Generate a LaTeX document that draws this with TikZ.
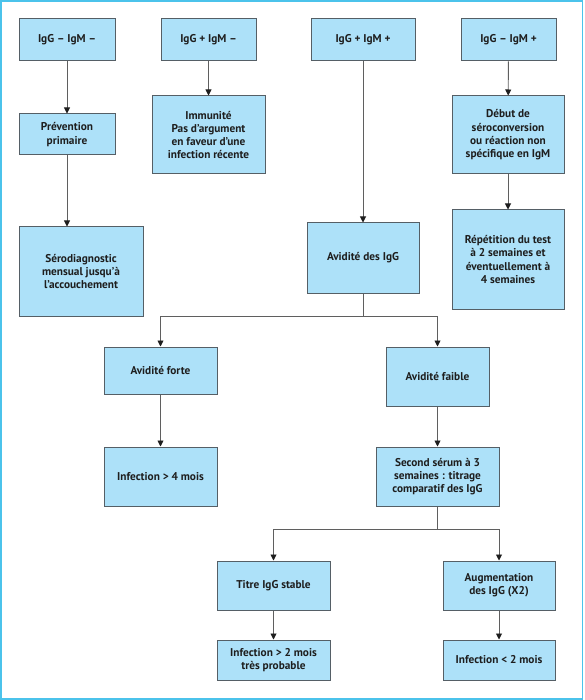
\documentclass[tikz,border=0pt]{standalone}
\usepackage{fontspec}
\setmainfont{PT Sans}
\usetikzlibrary{arrows.meta}
\definecolor{boxfill}{RGB}{173,225,249}
\definecolor{boxline}{RGB}{85,95,102}
\definecolor{frameblue}{RGB}{75,195,235}
\definecolor{conn}{RGB}{95,95,95}
\definecolor{tipc}{RGB}{30,30,30}
\definecolor{txt}{RGB}{30,30,30}
\begin{document}
\begin{tikzpicture}[x=1pt,y=-1pt,
  box/.style={draw=boxline, line width=1pt, fill=boxfill, align=center,
    inner sep=2pt, text=txt, font=\bfseries\fontsize{11.3}{13.3}\selectfont},
  arr/.style={draw=conn, line width=0.9pt, -{Triangle[length=6pt,width=6pt,color=tipc]}},
  ln/.style={draw=conn, line width=0.9pt}]
\useasboundingbox (0,0) rectangle (584,700);
\draw[frameblue, line width=1.6pt] (0.8,0.8) rectangle (582.5,699);

\node[box, minimum width=96, minimum height=42] (A) at (67,40) {IgG – IgM –};
\node[box, minimum width=95, minimum height=42] (B) at (208.5,40) {IgG + IgM –};
\node[box, minimum width=104, minimum height=42] (C) at (363,40) {IgG + IgM +};
\node[box, minimum width=95, minimum height=42] (D) at (508.5,40) {IgG – IgM +};

\node[box, minimum width=96, minimum height=41] (E) at (67,134.5) {Prévention\\primaire};
\node[box, minimum width=113, minimum height=78] (F) at (208.5,135) {Immunité\\Pas d’argument\\en faveur d’une\\infection récente};
\node[box, minimum width=112, minimum height=78] (G) at (508,135) {Début de\\séroconversion\\ou réaction non\\spécifique en IgM};

\node[box, minimum width=124, minimum height=89] (H) at (81,271.5) {Sérodiagnostic\\mensual jusqu’à\\l’accouchement};
\node[box, minimum width=112, minimum height=70] (I) at (363,258) {Avidité des IgG};
\node[box, minimum width=112, minimum height=99] (J) at (508,259.5) {Répétition du test\\à 2 semaines et\\éventuellement à\\4 semaines};

\node[box, minimum width=113, minimum height=47] (K) at (160.5,370.5) {Avidité forte};
\node[box, minimum width=103, minimum height=59] (L) at (437.5,376.5) {Avidité faible};
\node[box, minimum width=113, minimum height=59] (M) at (160.5,476.5) {Infection > 4 mois};
\node[box, minimum width=123, minimum height=59] (N) at (437.5,476.5) {Second sérum à 3\\semaines : titrage\\comparatif des IgG};

\node[box, minimum width=113, minimum height=49] (O) at (273.5,585.5) {Titre IgG stable};
\node[box, minimum width=112, minimum height=49] (P) at (499,585.5) {Augmentation\\des IgG (X2)};
\node[box, minimum width=113, minimum height=40] (Q) at (273.5,660) {Infection > 2 mois\\très probable};
\node[box, minimum width=112, minimum height=40] (R) at (499,660) {Infection < 2 mois};

\coordinate (s1) at (363,316);
\coordinate (s2) at (437.5,529);

\draw[arr] (A) -- (E);
\draw[arr] (B) -- (F);
\draw[arr] (C) -- (I);
\draw[arr] (D) -- (G);
\draw[arr] (G) -- (J);
\draw[arr] (E.south) -- (E.south |- H.north);
\draw[ln] (I.south) -- (s1);
\draw[arr] (s1) -| (K.north);
\draw[arr] (s1) -| (L.north);
\draw[arr] (K) -- (M);
\draw[arr] (L) -- (N);
\draw[ln] (N.south) -- (s2);
\draw[arr] (s2) -| (O.north);
\draw[arr] (s2) -| (P.north);
\draw[arr] (O) -- (Q);
\draw[arr] (P) -- (R);
\end{tikzpicture}
\end{document}
